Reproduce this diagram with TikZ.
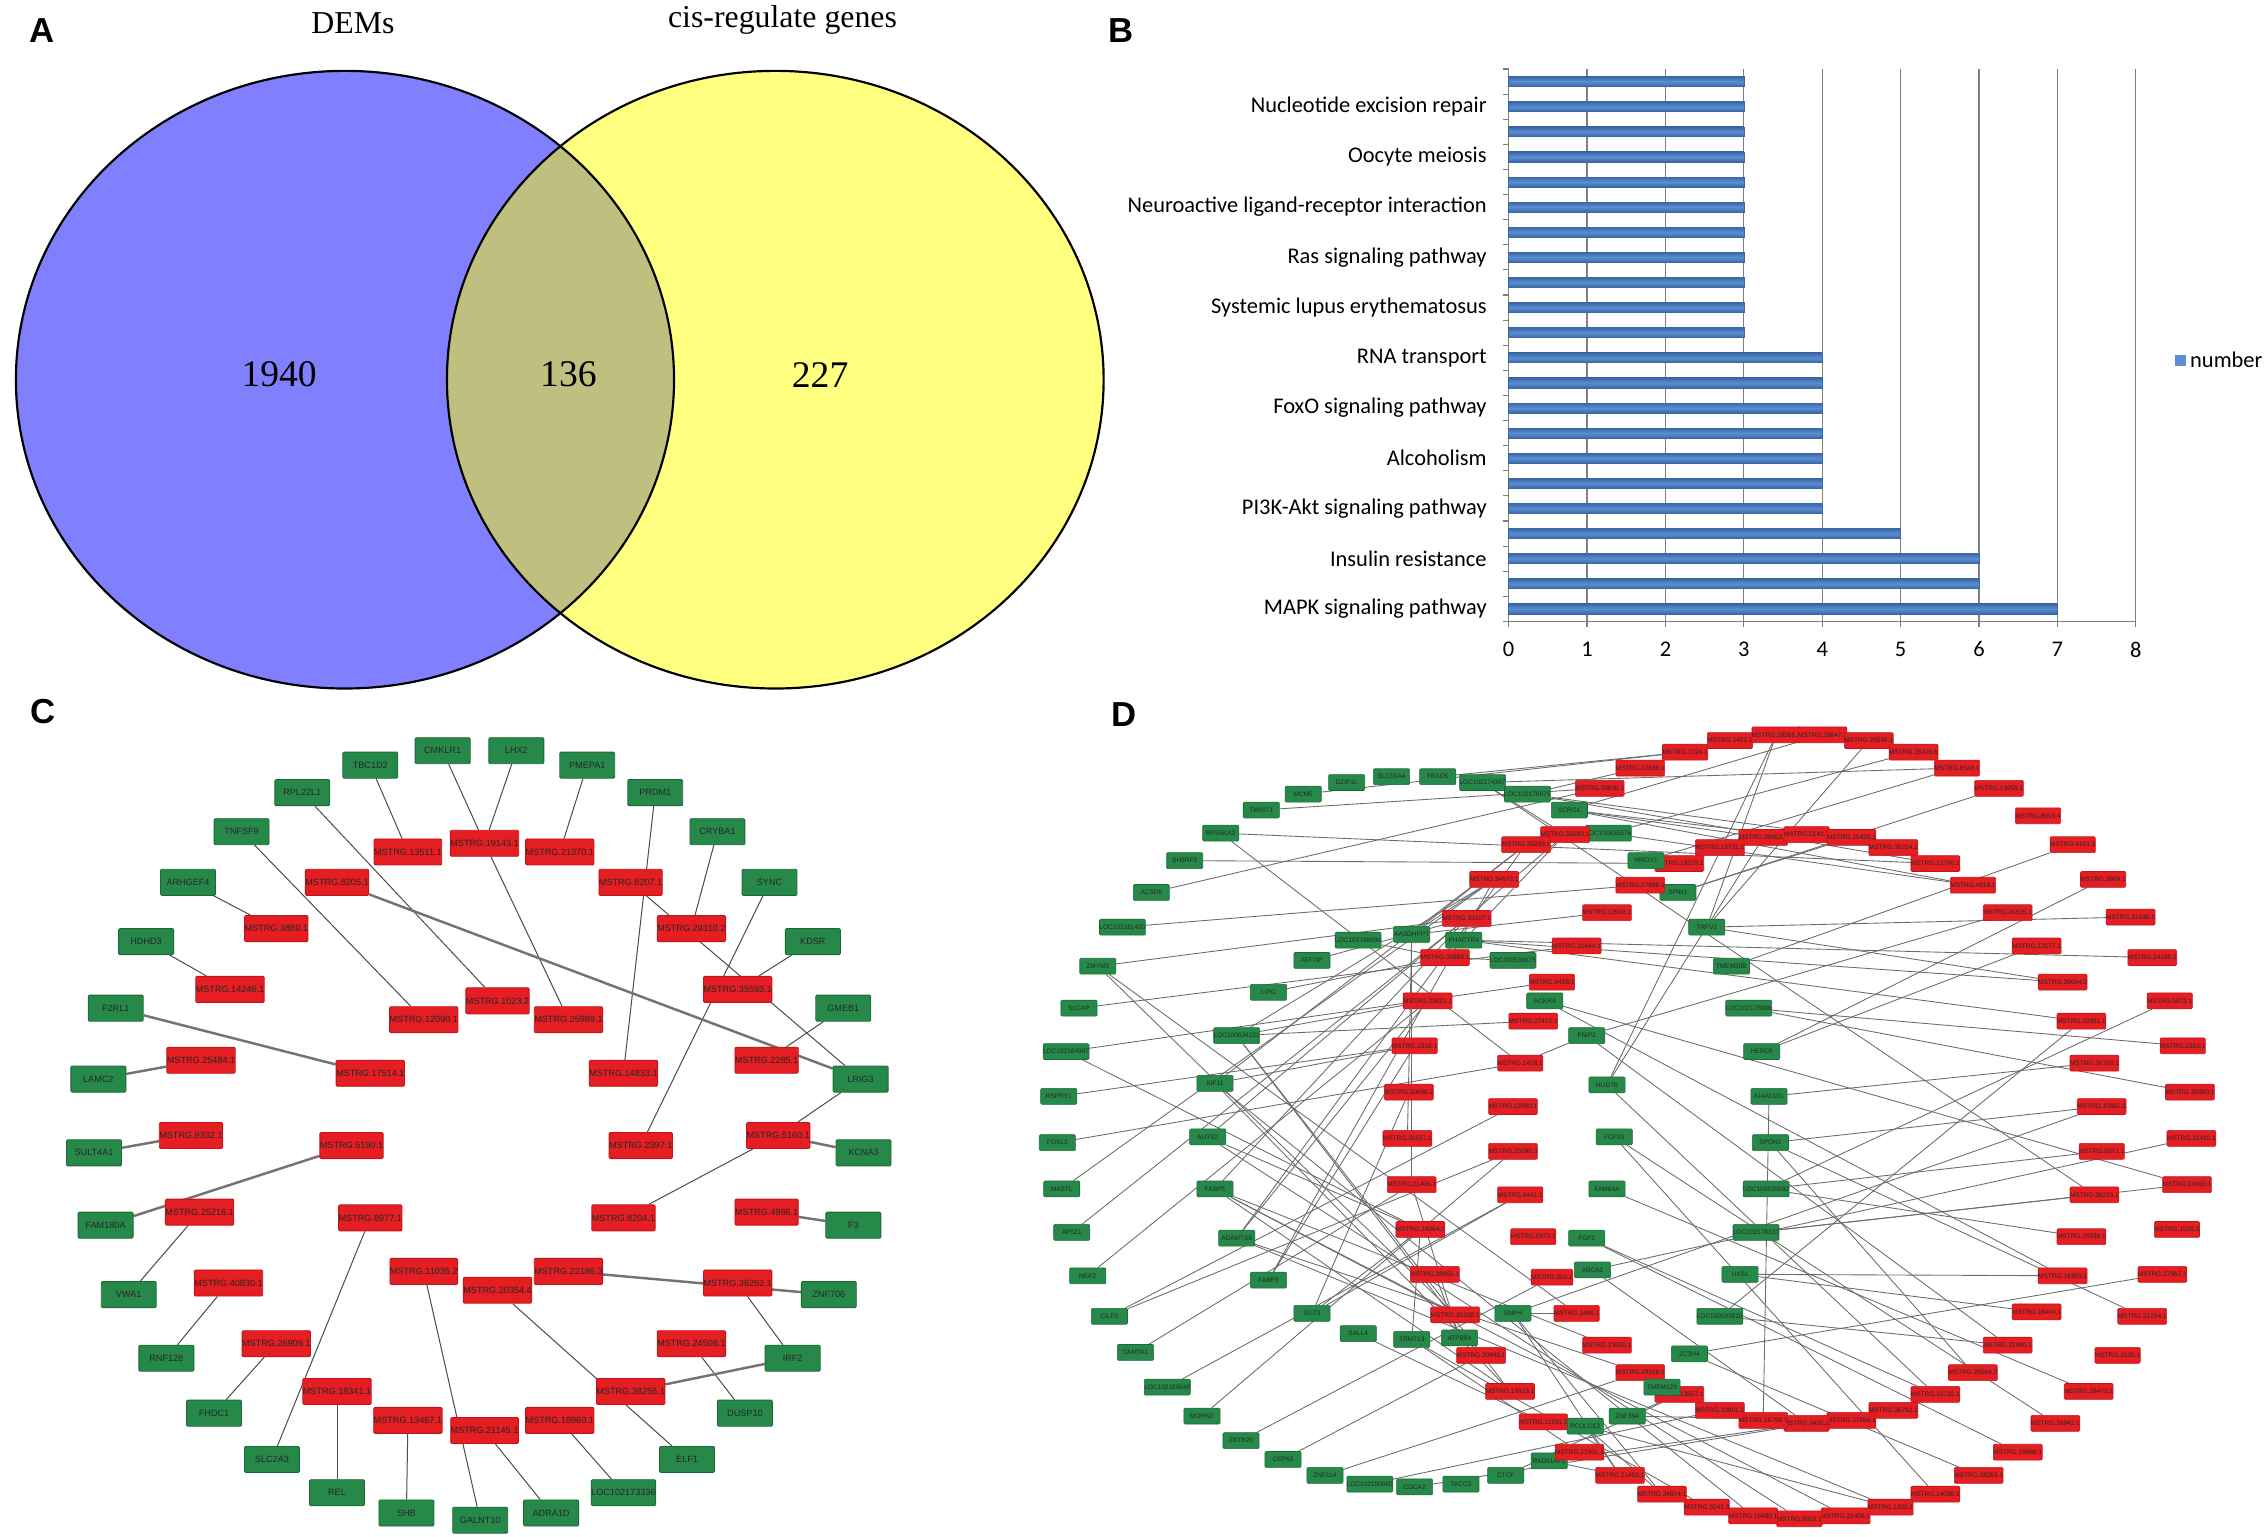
\documentclass[tikz,border=0pt]{standalone}
\usepackage{fontspec}
\setmainfont{Liberation Serif}
\newfontfamily\arialf{Liberation Sans}
\newfontfamily\calf{Carlito}
\pgfdeclarelayer{edgelayer}
\pgfsetlayers{edgelayer,main}
\definecolor{vblue}{HTML}{8080FF}
\definecolor{vyel}{HTML}{FFFF80}
\definecolor{vmix}{HTML}{BFBF80}
\definecolor{gfill}{HTML}{26894A}
\definecolor{gline}{HTML}{1B6A34}
\definecolor{rfill}{HTML}{E41E22}
\definecolor{rline}{HTML}{C0161B}
\definecolor{barmid}{HTML}{5B8ED0}
\definecolor{baredge}{HTML}{3A68A6}
\definecolor{gridc}{HTML}{808080}
\tikzset{
  gC/.style={rectangle, fill=gfill, draw=gline, line width=0.6pt, minimum width=38pt, minimum height=18pt, inner sep=0pt, font=\arialf\fontsize{6.3}{7}\selectfont, text=black!85, rounded corners=0.8pt},
  rC/.style={gC, fill=rfill, draw=rline},
  gD/.style={gC, minimum width=25pt, minimum height=11pt, font=\arialf\fontsize{4.5}{5}\selectfont, line width=0.4pt},
  rD/.style={gD, fill=rfill, draw=rline},
  eC/.style={draw=black!70, line width=0.7pt},
  eCt/.style={draw=black!55, line width=1.7pt},
  eD/.style={draw=black!58, line width=0.6pt},
  plabel/.style={font=\arialf\bfseries\fontsize{24}{26}\selectfont},
  blab/.style={font=\calf\fontsize{15.5}{17}\selectfont, inner sep=0pt},
}
\newcommand\mkGD[3]{\node[gD] (#1) at (#2) {#3};}
\newcommand\mkRD[3]{\node[rD] (d#1) at (#2) {MSTRG.#3};}
\newcommand\mkGC[3]{\node[gC] (#1) at (#2) {#3};}
\newcommand\mkRC[3]{\node[rC] (c#1) at (#2) {MSTRG.#3};}
\begin{document}
\begin{tikzpicture}[x=1pt,y=-1pt]
\useasboundingbox (0,0) rectangle (1568,1062);
% ---------------- panel letters
\node[plabel] (labA) at (29,21) {A};
\node[plabel] (labB) at (775,21) {B};
\node[plabel] (labC) at (30,492) {C};
\node[plabel] (labD) at (777,494) {D};
% ---------------- panel A
\fill[vblue] (238.5,262.5) ellipse [x radius=227.5pt, y radius=213.5pt];
\fill[vyel] (536,262.5) ellipse [x radius=227pt, y radius=213.5pt];
\begin{scope}
\clip (238.5,262.5) ellipse [x radius=227.5pt, y radius=213.5pt];
\fill[vmix] (536,262.5) ellipse [x radius=227pt, y radius=213.5pt];
\end{scope}
\draw[line width=1.5pt] (238.5,262.5) ellipse [x radius=227.5pt, y radius=213.5pt];
\draw[line width=1.5pt] (536,262.5) ellipse [x radius=227pt, y radius=213.5pt];
\node[font=\fontsize{22}{24}\selectfont] (tDEM) at (244,16) {DEMs};
\node[font=\fontsize{22}{24}\selectfont] (tCIS) at (541,14) {cis-regulate genes};
\node[font=\fontsize{26}{28}\selectfont] (n1940) at (193,259) {1940};
\node[font=\fontsize{26}{28}\selectfont] (n136) at (393,259) {136};
\node[font=\fontsize{26}{28}\selectfont] (n227) at (567,259) {227};
% ---------------- panel B
\foreach \i in {1,...,8} \draw[gridc, line width=0.8pt] (1043+\i*54.2,47.7) -- (1043+\i*54.2,429.6);
\draw[gridc, line width=0.8pt] (1043,47.7) -- (1043,429.6) -- (1476,429.6);
\foreach \j in {0,...,22} \draw[gridc, line width=0.8pt] (1039,47.7+\j*17.36) -- (1043,47.7+\j*17.36);
\foreach \i in {0,...,8} \draw[gridc, line width=0.8pt] (1043+\i*54.2,429.6) -- (1043+\i*54.2,433.6);
\foreach \v [count=\k] in {3,3,3,3,3,3,3,3,3,3,3,4,4,4,4,4,4,4,5,6,6,7} {
  \shade[top color=baredge, bottom color=baredge, middle color=barmid] (1043,56.4+\k*17.36-17.36-3.4) rectangle (1043+\v*54.2,56.4+\k*17.36-17.36+3.4);
  \draw[baredge, line width=0.4pt] (1043,56.4+\k*17.36-17.36-3.4) rectangle (1043+\v*54.2,56.4+\k*17.36-17.36+3.4);
}
\foreach \lab [count=\j] in {Nucleotide excision repair, Oocyte meiosis, Neuroactive ligand-receptor interaction, Ras signaling pathway, Systemic lupus erythematosus, RNA transport, FoxO signaling pathway, Alcoholism, PI3K-Akt signaling pathway, Insulin resistance, MAPK signaling pathway}
  \node[blab, anchor=east] (bl\j) at (1028,56.4+\j*34.72-17.36) {\lab};
\foreach \i in {0,...,8} \node[blab] (bt\i) at (1043+\i*54.2,449) {\i};
\fill[barmid] (1503.5,245.5) rectangle (1511,253);
\node[blab, anchor=west] (legnum) at (1514,249) {number};
% ---------------- panel C nodes
\mkGC{cCMKLR1}{306,519}{CMKLR1}
\mkGC{cLHX2}{357,519}{LHX2}
\mkGC{cTBC1D2}{256,529}{TBC1D2}
\mkGC{cPMEPA1}{406,529}{PMEPA1}
\mkGC{cRPL22L1}{209,548}{RPL22L1}
\mkGC{cPRDM1}{453,548}{PRDM1}
\mkGC{cTNFSF9}{167,575}{TNFSF9}
\mkGC{cCRYBA1}{496,575}{CRYBA1}
\mkGC{cARHGEF4}{130,610}{ARHGEF4}
\mkGC{cSYNC}{532,610}{SYNC}
\mkGC{cHDHD3}{101,651}{HDHD3}
\mkGC{cKDSR}{562,651}{KDSR}
\mkGC{cF2RL1}{80,697}{F2RL1}
\mkGC{cGMEB1}{583,697}{GMEB1}
\mkGC{cLAMC2}{68,746}{LAMC2}
\mkGC{cLRIG3}{595,746}{LRIG3}
\mkGC{cSULT4A1}{65,797}{SULT4A1}
\mkGC{cKCNA3}{597,797}{KCNA3}
\mkGC{cFAM180A}{73,847}{FAM180A}
\mkGC{cF3}{590,847}{F3}
\mkGC{cVWA1}{89,895}{VWA1}
\mkGC{cZNF706}{573,895}{ZNF706}
\mkGC{cRNF128}{115,939}{RNF128}
\mkGC{cIRF2}{548,939}{IRF2}
\mkGC{cFHDC1}{148,977}{FHDC1}
\mkGC{cDUSP10}{515,977}{DUSP10}
\mkGC{cSLC2A3}{188,1009}{SLC2A3}
\mkGC{cELF1}{475,1009}{ELF1}
\mkGC{cREL}{233,1032}{REL}
\mkGC{cLOC}{431,1032}{LOC102173336}
\mkGC{cSHB}{281,1046}{SHB}
\mkGC{cADRA1D}{381,1046}{ADRA1D}
\mkGC{cGALNT10}{332,1051}{GALNT10}
\mkRC{19143}{335,583}{19143.1}
\mkRC{13511}{282,589}{13511.1}
\mkRC{21370}{387,589}{21370.1}
\mkRC{8205}{233,610}{8205.1}
\mkRC{8207}{436,610}{8207.1}
\mkRC{3889}{191,642}{3889.1}
\mkRC{29310}{478,642}{29310.2}
\mkRC{14246}{159,684}{14246.1}
\mkRC{35593}{510,684}{35593.1}
\mkRC{1023}{344,692}{1023.2}
\mkRC{12090}{293,705}{12090.1}
\mkRC{25989}{393,705}{25989.1}
\mkRC{25484}{139,733}{25484.1}
\mkRC{17514}{256,742}{17514.1}
\mkRC{14833}{431,742}{14833.1}
\mkRC{2285}{530,733}{2285.1}
\mkRC{9332}{132,785}{9332.1}
\mkRC{6190}{243,792}{6190.1}
\mkRC{2397}{443,792}{2397.1}
\mkRC{5160}{538,785}{5160.1}
\mkRC{25216}{138,838}{25216.1}
\mkRC{8977}{256,842}{8977.1}
\mkRC{8204}{431,842}{8204.1}
\mkRC{4986}{530,838}{4986.1}
\mkRC{40830}{158,887}{40830.1}
\mkRC{11035}{293,879}{11035.2}
\mkRC{22186}{393,879}{22186.3}
\mkRC{20354}{344,892}{20354.4}
\mkRC{38262}{510,887}{38262.1}
\mkRC{26909}{191,929}{26909.1}
\mkRC{24508}{478,929}{24508.1}
\mkRC{18341}{233,962}{18341.1}
\mkRC{38256}{436,962}{38256.1}
\mkRC{13467}{282,982}{13467.1}
\mkRC{21145}{335,989}{21145.1}
\mkRC{18960}{387,982}{18960.1}
\begin{pgfonlayer}{edgelayer}
\foreach \a/\b in {cCMKLR1/c19143, cLHX2/c19143, cTBC1D2/c13511, cPMEPA1/c21370, cRPL22L1/c1023, cPRDM1/c14833, cTNFSF9/c12090, cCRYBA1/c29310, cARHGEF4/c3889, cSYNC/c2397, cHDHD3/c14246, cKDSR/c35593, cGMEB1/c2285, c19143/c25989, c8207/cLRIG3, cLRIG3/c5160, c25216/cVWA1, c40830/cRNF128, c26909/cFHDC1, c8977/cSLC2A3, c18341/cREL, c13467/cSHB, c11035/cGALNT10, c21145/cADRA1D, c18960/cLOC, c20354/cELF1, c38262/cIRF2, c24508/cDUSP10, c5160/c8204}
  \draw[eC] (\a) -- (\b);
\foreach \a/\b in {cLAMC2/c25484, cSULT4A1/c9332, cF2RL1/c17514, c6190/cFAM180A, c8205/cLRIG3, c22186/cZNF706, c38256/cIRF2, c4986/cF3, c5160/cKCNA3}
  \draw[eCt] (\a) -- (\b);
\end{pgfonlayer}
% ---------------- panel D nodes (green)
\mkGD{dTWIST1}{872,560}{TWIST1}
\mkGD{dMCM5}{901,549}{MCM5}
\mkGD{dDZIP1L}{931,541}{DZIP1L}
\mkGD{dSLC16A4}{962,537}{SLC16A4}
\mkGD{dFBXO5}{994,537}{FBXO5}
\mkGD{dL174367}{1025,541}{LOC102174367}
\mkGD{dL176875}{1056,549}{LOC102176875}
\mkGD{dSCRG1}{1085,560}{SCRG1}
\mkGD{dRPS6KA2}{844,576}{RPS6KA2}
\mkGD{dSH3RF3}{819,595}{SH3RF3}
\mkGD{dACSD6}{796,617}{ACSD6}
\mkGD{dL181420}{776,641}{LOC102181420}
\mkGD{dZMYM5}{759,668}{ZMYM5}
\mkGD{dSLCAP}{746,697}{SLCAP}
\mkGD{dL184907}{737,727}{LOC102184907}
\mkGD{dRSPRY1}{732,758}{RSPRY1}
\mkGD{dFOXL2}{731,790}{FOXL2}
\mkGD{dMASTL}{734,822}{MASTL}
\mkGD{dAP5Z1}{741,852}{AP5Z1}
\mkGD{dNEK2}{752,882}{NEK2}
\mkGD{dCILP2}{767,910}{CILP2}
\mkGD{dCAMTA1}{785,935}{CAMTA1}
\mkGD{dL189649}{807,959}{LOC102189649}
\mkGD{dMORN2}{831,979}{MORN2}
\mkGD{dZBTB20}{858,996}{ZBTB20}
\mkGD{dCEP63}{887,1009}{CEP63}
\mkGD{dZNF114}{916,1020}{ZNF114}
\mkGD{dL190060}{947,1026}{LOC102190060}
\mkGD{dCDCA2}{978,1028}{CDCA2}
\mkGD{dTACC3}{1010,1026}{TACC3}
\mkGD{dCTCF}{1041,1020}{CTCF}
\mkGD{dRAD51AP1}{1071,1010}{RAD51AP1}
\mkGD{dATF7IP}{907,664}{ATF7IP}
\mkGD{dLIPG}{877,686}{LIPG}
\mkGD{dL634221}{855,716}{LOC100634221}
\mkGD{dKIF11}{840,749}{KIF11}
\mkGD{dAUTS2}{835,786}{AUTS2}
\mkGD{dFKBP5}{840,822}{FKBP5}
\mkGD{dADAMTS9}{855,856}{ADAMTS9}
\mkGD{dFABP3}{877,885}{FABP3}
\mkGD{dSLIT3}{907,908}{SLIT3}
\mkGD{dL188634}{939,650}{LOC102188634}
\mkGD{dL503675}{1046,664}{LOC100503675}
\mkGD{dACKR4}{1068,692}{ACKR4}
\mkGD{dFNIP2}{1097,716}{FNIP2}
\mkGD{dNUDT6}{1111,750}{NUDT6}
\mkGD{dL635576}{1112,576}{LOC100635576}
\mkGD{dSPIN1}{1160,617}{SPIN1}
\mkGD{dTRPV2}{1180,641}{TRPV2}
\mkGD{dTMEM30B}{1197,668}{TMEM30B}
\mkGD{dL178986}{1209,697}{LOC102178986}
\mkGD{dHERC6}{1218,727}{HERC6}
\mkGD{dKIAA0101}{1223,758}{KIAA0101}
\mkGD{dSPON2}{1224,790}{SPON2}
\mkGD{dL635692}{1221,822}{LOC100635692}
\mkGD{dL178310}{1214,852}{LOC102178310}
\mkGD{dUXS1}{1203,881}{UXS1}
\mkGD{dL502810}{1189,910}{LOC100502810}
\mkGD{dFGF10}{1116,786}{FGF10}
\mkGD{dFAM64A}{1111,822}{FAM64A}
\mkGD{dFGF2}{1097,856}{FGF2}
\mkGD{dABCA1}{1101,878}{ABCA1}
\mkGD{dSNPH}{1046,908}{SNPH}
\mkGD{dSALL4}{939,922}{SALL4}
% ---------------- panel D nodes (red)
\mkRD{7124}{1165,520}{7124.1}
\mkRD{1452}{1196,512}{1452.1}
\mkRD{28586}{1228,508}{28586.3}
\mkRD{39847}{1260,508}{39847.1}
\mkRD{26545}{1292,512}{26545.1}
\mkRD{35426}{1323,520}{35426.6}
\mkRD{8549}{1353,531}{8549.1}
\mkRD{13958}{1382,545}{13958.1}
\mkRD{8919}{1409,564}{8919.4}
\mkRD{4101}{1433,584}{4101.3}
\mkRD{3909}{1454,608}{3909.1}
\mkRD{31636}{1473,634}{31636.1}
\mkRD{24188}{1488,662}{24188.3}
\mkRD{5873}{1500,692}{5873.1}
\mkRD{2263}{1509,723}{2263.1}
\mkRD{39060}{1514,755}{39060.1}
\mkRD{21410}{1515,787}{21410.1}
\mkRD{34160}{1512,819}{34160.1}
\mkRD{1526}{1505,850}{1526.1}
\mkRD{27567}{1495,881}{27567.1}
\mkRD{31294}{1481,910}{31294.1}
\mkRD{1532}{1464,937}{1532.1}
\mkRD{29473}{1444,962}{29473.2}
\mkRD{39942}{1421,984}{39942.1}
\mkRD{39868}{1395,1004}{39868.1}
\mkRD{28263}{1368,1020}{28263.1}
\mkRD{14038}{1338,1033}{14038.1}
\mkRD{1330}{1307,1042}{1330.1}
\mkRD{21409}{1276,1048}{21409.1}
\mkRD{9052}{1244,1050}{9052.1}
\mkRD{16490}{1212,1048}{16490.1}
\mkRD{5041}{1180,1042}{5041.3}
\mkRD{34874}{1149,1033}{34874.1}
\mkRD{21403}{1120,1020}{21403.1}
\mkRD{21901}{1092,1004}{21901.1}
\mkRD{11291}{1067,983}{11291.1}
\mkRD{37686}{1134,531}{37686.1}
\mkRD{20636}{1106,545}{20636.1}
\mkRD{36283}{1082,577}{36283.1}
\mkRD{36289}{1055,584}{36289.1}
\mkRD{34673}{1033,608}{34673.1}
\mkRD{18379}{1161,597}{18379.1}
\mkRD{27988}{1134,612}{27988.1}
\mkRD{33107}{1014,635}{33107.1}
\mkRD{13918}{1111,631}{13918.1}
\mkRD{36883}{999,662}{36883.1}
\mkRD{21644}{1090,654}{21644.1}
\mkRD{9428}{1073,679}{9428.1}
\mkRD{29622}{987,692}{29622.1}
\mkRD{27472}{1060,706}{27472.1}
\mkRD{2333}{978,723}{2333.1}
\mkRD{1418}{1051,735}{1418.1}
\mkRD{30606}{974,755}{30606.2}
\mkRD{12680}{1046,765}{12680.1}
\mkRD{39653}{1219,579}{39653.1}
\mkRD{5143}{1249,577}{5143.1}
\mkRD{15426}{1280,579}{15426.1}
\mkRD{36214}{1309,586}{36214.1}
\mkRD{15731}{1189,586}{15731.1}
\mkRD{12790}{1338,597}{12790.1}
\mkRD{4918}{1364,612}{4918.1}
\mkRD{26535}{1388,631}{26535.1}
\mkRD{12577}{1408,654}{12577.1}
\mkRD{29684}{1426,679}{29684.2}
\mkRD{22991}{1439,706}{22991.1}
\mkRD{16769}{1448,735}{16769.1}
\mkRD{10681}{1453,765}{10681.3}
\mkRD{5871}{1453,796}{5871.1}
\mkRD{36213}{1448,826}{36213.1}
\mkRD{26536}{1439,855}{26536.1}
\mkRD{18393}{1426,882}{18393.1}
\mkRD{18404}{1408,907}{18404.1}
\mkRD{22990}{1388,930}{22990.1}
\mkRD{26566}{1364,949}{26566.2}
\mkRD{15732}{1338,964}{15732.1}
\mkRD{36792}{1309,975}{36792.1}
\mkRD{27566}{1280,982}{27566.1}
\mkRD{9420}{1249,984}{9420.1}
\mkRD{16798}{1219,982}{16798.1}
\mkRD{10001}{1189,975}{10001.1}
\mkRD{13657}{1161,964}{13657.1}
\mkRD{29318}{1134,949}{29318.1}
\mkRD{13920}{1111,930}{13920.1}
\mkRD{1486}{1090,908}{1486.1}
\mkRD{500}{1073,883}{500.1}
\mkRD{5872}{1060,855}{5872.1}
\mkRD{6441}{1051,826}{6441.1}
\mkRD{25090}{1046,796}{25090.3}
\mkRD{26537}{973,787}{26537.1}
\mkRD{21406}{976,819}{21406.1}
\mkRD{19064}{982,850}{19064.1}
\mkRD{39955}{992,881}{39955.1}
\mkRD{30108}{1006,909}{30108.1}
\mkRD{30845}{1024,937}{30845.1}
\mkRD{19923}{1044,962}{19923.1}
% green nodes drawn over red where they overlap
\mkGD{dHMOX1}{1138,595}{HMOX1}
\mkGD{dAASDHPPT}{976,646}{AASDHPPT}
\mkGD{dPHACTR4}{1012,650}{PHACTR4}
\mkGD{dTRMT13}{976,926}{TRMT13}
\mkGD{dATP8B4}{1009,925}{ATP8B4}
\mkGD{dZC3H4}{1168,936}{ZC3H4}
\mkGD{dTMEM129}{1149,959}{TMEM129}
\mkGD{dZNF394}{1125,979}{ZNF394}
\mkGD{dPCOLCE2}{1096,986}{PCOLCE2}
\begin{pgfonlayer}{edgelayer}
\foreach \a/\b in {dMCM5/d7124, dFBXO5/d7124, dTWIST1/d20636, dACSD6/d20636, dL174367/d36213, dL174367/d36283, dL174367/d8549, dL176875/d12790, dL176875/d15426, dL176875/d37686, dSCRG1/d4918, dSCRG1/d39653, dSCRG1/d39847, dSCRG1/d36214, dRPS6KA2/d12790, dRPS6KA2/d1418, dSH3RF3/d18379, dL181420/d27988, dZMYM5/d33107, dZMYM5/d30108, dZMYM5/d1486, dSLCAP/d21644, dL184907/d9428, dL184907/d19064, dRSPRY1/d2333, dFOXL2/d1418, dMASTL/d34673, dAP5Z1/d33107, dNEK2/d29622, dCILP2/d12680, dCILP2/d25090, dCAMTA1/d21406, dL189649/d6441, dMORN2/d25090, dZBTB20/d500, dCEP63/d30845, dZNF114/d29318, dL190060/d10001, dCDCA2/d36792, dCTCF/d13657, dRAD51AP1/d9420, dRAD51AP1/d21403, dKIF11/d36289, dKIF11/d30845, dKIF11/d16490, dKIF11/d2333, dAUTS2/d36283, dAUTS2/d19064, dAUTS2/d9052, dFKBP5/d33107, dFKBP5/d13920, dFKBP5/d19923, dFKBP5/d30108, dFKBP5/d21409, dADAMTS9/d29622, dADAMTS9/d29318, dADAMTS9/d36289, dADAMTS9/d1330, dFABP3/d2333, dFABP3/d34673, dSLIT3/d30606, dSLIT3/d19064, dSLIT3/d6441, dL634221/d34673, dL634221/d30108, dL634221/d19923, dL634221/d27472, dL634221/d29622, dATF7IP/d33107, dLIPG/d36883, dL188634/d36883, dAASDHPPT/d36289, dAASDHPPT/d34673, dAASDHPPT/d13918, dAASDHPPT/d26537, dAASDHPPT/d21406, dPHACTR4/d36283, dPHACTR4/d24188, dPHACTR4/d22991, dPHACTR4/d29684, dL503675/d36883, dACKR4/d18393, dACKR4/d34160, dFNIP2/d1418, dFNIP2/d26535, dFNIP2/d22990, dNUDT6/d39653, dNUDT6/d15732, dNUDT6/d28586, dL635576/d4918, dL635576/d35426, dHMOX1/d8549, dSPIN1/d13958, dSPIN1/d15426, dTRPV2/d31636, dTRPV2/d29684, dTRPV2/d28586, dTRPV2/d26545, dTMEM30B/d4101, dL178986/d2263, dL178986/d39060, dHERC6/d3909, dHERC6/d12577, dKIAA0101/d16769, dKIAA0101/d16798, dSPON2/d10681, dSPON2/d26566, dSPON2/d31294, dL635692/d5871, dL635692/d26536, dL635692/d5873, dL178310/d36213, dL178310/d34160, dUXS1/d18393, dUXS1/d18404, dL502810/d22990, dL502810/d22991, dZC3H4/d28263, dZC3H4/d27567, dTMEM129/d10001, dZNF394/d27566, dZNF394/d13657, dPCOLCE2/d21403, dPCOLCE2/d34874, dPCOLCE2/d1330, dPCOLCE2/d11291, dSNPH/d21403, dSNPH/d10681, dSNPH/d34874, dSNPH/d1486, dABCA1/d9420, dABCA1/d21410, dFGF2/d15732, dFGF2/d39868, dFAM64A/d29473, dFGF10/d39942, dFGF10/d14038, dSALL4/d11291, dTRMT13/d21901, dTRMT13/d19064, dTRMT13/d5041, dATP8B4/d21406, dATP8B4/d19923, dATP8B4/d39955}
  \draw[eD] (\a) -- (\b);
\end{pgfonlayer}
\end{tikzpicture}
\end{document}
